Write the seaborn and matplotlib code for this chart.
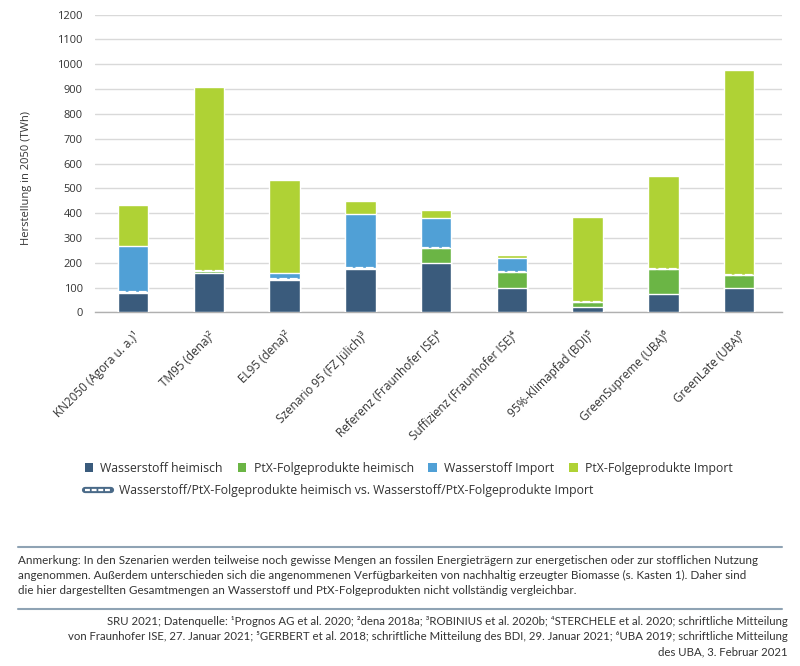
import pandas as pd
import matplotlib.pyplot as plt
import seaborn as sns
from matplotlib.patches import Patch
from matplotlib.lines import Line2D

# Szenarien und Mengen (TWh, Herstellung in 2050)
szenarien = ['KN2050 (Agora u. a.)¹', 'TM95 (dena)²', 'EL95 (dena)²',
             'Szenario 95 (FZ Jülich)³', 'Referenz (Fraunhofer ISE)⁴',
             'Suffizienz (Fraunhofer ISE)⁴', '95%-Klimapfad (BDI)⁵',
             'GreenSupreme (UBA)⁶', 'GreenLate (UBA)⁶']
h2_heimisch = [80, 160, 132, 175, 198, 100, 22, 75, 99]
ptx_heimisch = [3, 5, 3, 5, 60, 63, 18, 100, 51]
h2_import = [185, 0, 22, 218, 121, 55, 0, 0, 0]
ptx_import = [163, 743, 375, 50, 32, 12, 343, 375, 827]

serien = ['Wasserstoff heimisch', 'PtX-Folgeprodukte heimisch',
          'Wasserstoff Import', 'PtX-Folgeprodukte Import']
farben = ['#3a5b7c', '#6bb545', '#50a0d6', '#afd235']
yticks = list(range(0, 1300, 100))

sns.set_theme(style='white')
plt.rcParams['font.family'] = ['Open Sans', 'DejaVu Sans']
textfarbe = '#333333'

df = pd.DataFrame({'Szenario': szenarien,
                   serien[0]: h2_heimisch, serien[1]: ptx_heimisch,
                   serien[2]: h2_import, serien[3]: ptx_import})
# kumulierte Summen fuer das Stapeln
cum = df[serien].cumsum(axis=1)

fig = plt.figure(figsize=(8, 6.66), dpi=100)
ax = fig.add_axes([0.119, 0.531, 0.858, 0.447])

# von oben nach unten zeichnen, damit sich die Stapel ergeben
for s, c in reversed(list(zip(serien, farben))):
    sns.barplot(x=df['Szenario'], y=cum[s], color=c, width=0.4,
                saturation=1, ax=ax, order=szenarien, zorder=3)

# Trennlinie heimisch vs. Import
heim = cum[serien[1]]
pos = range(len(szenarien))
ax.hlines(heim, [p - 0.2 for p in pos], [p + 0.2 for p in pos],
          colors='white', linewidth=1.6, linestyles=(0, (3.5, 1.2)), zorder=4)

ax.set_ylim(0, 1200)
ax.set_xlim(-0.5, 8.56)
ax.set_yticks(yticks)
ax.set_yticklabels([str(v) for v in yticks], fontsize=8, color=textfarbe)
ax.yaxis.grid(True, color='#d9d9d9', linewidth=1)
ax.set_axisbelow(True)
ax.tick_params(axis='y', length=0, pad=9)
ax.tick_params(axis='x', length=0, pad=12)
ax.set_xticks(list(pos))
ax.set_xticklabels(szenarien, rotation=45, ha='right', rotation_mode='anchor',
                   fontsize=8.5, color=textfarbe)
ax.set_xlabel('')
ax.set_ylabel('Herstellung in 2050 (TWh)', fontsize=8, color=textfarbe)
ax.yaxis.set_label_coords(-0.092, 0.45)
for side in ['left', 'right', 'top']:
    ax.spines[side].set_visible(False)
ax.spines['bottom'].set_color('#b0b0b0')
ax.spines['bottom'].set_linewidth(1)

# Legenden
handles = [Patch(facecolor=c, edgecolor='none') for c in farben]
fig.legend(handles, serien, loc='center left', bbox_to_anchor=(0.092, 0.297),
           ncol=4, frameon=False, handlelength=0.7, handleheight=0.7,
           handletextpad=0.6, columnspacing=1.2, fontsize=8.8,
           labelcolor=textfarbe)
linie = (Line2D([], [], color='#4a6a88', linewidth=4.5),
         Line2D([], [], color='white', linewidth=1.6, linestyle=(0, (2.2, 0.8))))
fig.legend([linie],
           ['Wasserstoff/PtX-Folgeprodukte heimisch vs. Wasserstoff/PtX-Folgeprodukte Import'],
           loc='center left', bbox_to_anchor=(0.092, 0.263), frameon=False,
           handlelength=2.2, handletextpad=0.6, fontsize=8.8, labelcolor=textfarbe)

# Trennlinien und Anmerkungen
for y in [547, 609]:
    fig.add_artist(Line2D([18 / 800, 782 / 800], [1 - y / 666, 1 - y / 666],
                          transform=fig.transFigure, color='#8fa3b4', linewidth=1.5))

schmal = ['Lato', 'DejaVu Sans']
fig.text(18 / 800, 1 - 555 / 666,
         'Anmerkung: In den Szenarien werden teilweise noch gewisse Mengen an fossilen Energieträgern zur energetischen oder zur stofflichen Nutzung\n'
         'angenommen. Außerdem unterschieden sich die angenommenen Verfügbarkeiten von nachhaltig erzeugter Biomasse (s. Kasten 1). Daher sind\n'
         'die hier dargestellten Gesamtmengen an Wasserstoff und PtX-Folgeprodukten nicht vollständig vergleichbar.',
         ha='left', va='top', fontsize=8.4, color=textfarbe, family=schmal, linespacing=1.45)
fig.text(788 / 800, 1 - 616 / 666,
         'SRU 2021; Datenquelle: ¹Prognos AG et al. 2020; ²dena 2018a; ³ROBINIUS et al. 2020b; ⁴STERCHELE et al. 2020; schriftliche Mitteilung\n'
         'von Fraunhofer ISE, 27. Januar 2021; ⁵GERBERT et al. 2018; schriftliche Mitteilung des BDI, 29. Januar 2021; ⁶UBA 2019; schriftliche Mitteilung\n'
         'des UBA, 3. Februar 2021',
         ha='right', va='top', fontsize=8.2, color=textfarbe, family=schmal,
         linespacing=1.45, multialignment='right')

fig.savefig('out.png', dpi=100)
